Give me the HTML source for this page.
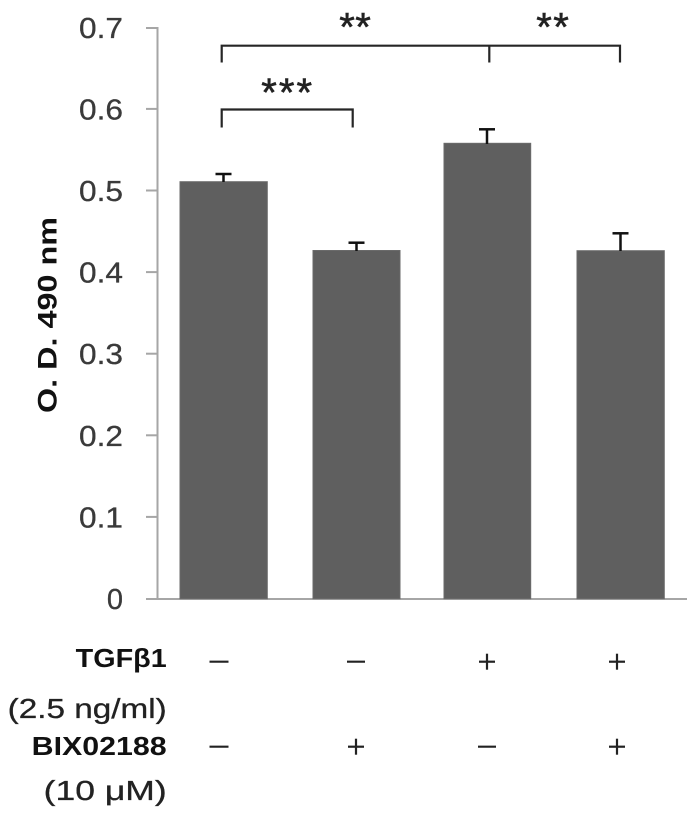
<!DOCTYPE html>
<html>
<head>
<meta charset="utf-8">
<style>
  html, body { margin: 0; padding: 0; background: #ffffff; }
  body { width: 697px; height: 815px; overflow: hidden; }
  svg { display: block; }
  .tick { font-family: "Liberation Sans", sans-serif; font-size: 29px; fill: #3a3a3a; stroke: #3a3a3a; stroke-width: 0.3px; }
  .reg { font-family: "Liberation Sans", sans-serif; font-size: 28px; fill: #222; stroke: #222; stroke-width: 0.3px; }
  .bold { font-family: "Liberation Sans", sans-serif; font-size: 26px; font-weight: bold; fill: #111; }
  .ast { font-family: "Liberation Sans", sans-serif; font-size: 40px; fill: #222; stroke: #222; stroke-width: 0.6px; }
</style>
</head>
<body>
<svg width="697" height="815" viewBox="0 0 697 815" xmlns="http://www.w3.org/2000/svg">
  <!-- Y axis -->
  <line x1="157.5" y1="27" x2="157.5" y2="599.5" stroke="#a6a6a6" stroke-width="2"/>
  <!-- X axis -->
  <line x1="146" y1="599" x2="687" y2="599" stroke="#a6a6a6" stroke-width="2"/>
  <!-- ticks -->
  <g stroke="#a6a6a6" stroke-width="2">
    <line x1="146" y1="516.9" x2="157.5" y2="516.9"/>
    <line x1="146" y1="435.3" x2="157.5" y2="435.3"/>
    <line x1="146" y1="353.7" x2="157.5" y2="353.7"/>
    <line x1="146" y1="272.1" x2="157.5" y2="272.1"/>
    <line x1="146" y1="190.5" x2="157.5" y2="190.5"/>
    <line x1="146" y1="108.9" x2="157.5" y2="108.9"/>
    <line x1="146" y1="28" x2="157.5" y2="28"/>
  </g>
  <!-- tick labels -->
  <g class="tick" text-anchor="end">
    <text x="123" y="609">0</text>
    <text x="123" y="527.4" textLength="44" lengthAdjust="spacingAndGlyphs">0.1</text>
    <text x="123" y="445.8" textLength="44" lengthAdjust="spacingAndGlyphs">0.2</text>
    <text x="123" y="364.2" textLength="44" lengthAdjust="spacingAndGlyphs">0.3</text>
    <text x="123" y="282.6" textLength="44" lengthAdjust="spacingAndGlyphs">0.4</text>
    <text x="123" y="201" textLength="44" lengthAdjust="spacingAndGlyphs">0.5</text>
    <text x="123" y="119.4" textLength="44" lengthAdjust="spacingAndGlyphs">0.6</text>
    <text x="123" y="38" textLength="44" lengthAdjust="spacingAndGlyphs">0.7</text>
  </g>
  <!-- Y label -->
  <text class="bold" transform="translate(56.5,413) rotate(-90)" x="0" y="0" textLength="196" lengthAdjust="spacingAndGlyphs" style="font-size:27px">O. D. 490 nm</text>

  <!-- bars -->
  <g fill="#5f5f5f" stroke="#6a6a6a" stroke-width="1">
    <rect x="180" y="181.7" width="87.3" height="417"/>
    <rect x="313" y="250.5" width="87" height="348.2"/>
    <rect x="444" y="143.3" width="86.7" height="455.4"/>
    <rect x="577" y="250.7" width="87.3" height="348"/>
  </g>
  <!-- error bars -->
  <g stroke="#111" stroke-width="2.5" fill="none">
    <line x1="223.5" y1="174" x2="223.5" y2="182"/>
    <line x1="215.5" y1="174" x2="231.5" y2="174"/>
    <line x1="356.5" y1="242.7" x2="356.5" y2="251"/>
    <line x1="348.5" y1="242.7" x2="364.5" y2="242.7"/>
    <line x1="487" y1="129.3" x2="487" y2="144"/>
    <line x1="479" y1="129.3" x2="495" y2="129.3"/>
    <line x1="620.5" y1="233.3" x2="620.5" y2="251"/>
    <line x1="612.5" y1="233.3" x2="628.5" y2="233.3"/>
  </g>

  <!-- significance brackets -->
  <g stroke="#262626" stroke-width="2.2" fill="none">
    <polyline points="221.7,62.5 221.7,45.7 620,45.7 620,62.5"/>
    <line x1="489.3" y1="45.7" x2="489.3" y2="62.5"/>
    <polyline points="221.7,127.5 221.7,109.5 352.7,109.5 352.7,127.5"/>
  </g>
  <g class="ast" text-anchor="middle">
    <text x="347" y="40.5">*</text>
    <text x="363" y="40.5">*</text>
    <text x="544" y="40.5">*</text>
    <text x="561" y="40.5">*</text>
    <text x="269" y="106">*</text>
    <text x="286.7" y="106">*</text>
    <text x="304.3" y="106">*</text>
  </g>

  <!-- bottom labels -->
  <text class="bold" x="166.7" y="667" text-anchor="end" textLength="91" lengthAdjust="spacingAndGlyphs">TGFβ1</text>
  <text class="reg" x="166.7" y="718" text-anchor="end" textLength="159" lengthAdjust="spacingAndGlyphs">(2.5 ng/ml)</text>
  <text class="bold" x="166.7" y="755" text-anchor="end" textLength="135" lengthAdjust="spacingAndGlyphs">BIX02188</text>
  <text class="reg" x="166.7" y="800" text-anchor="end" textLength="123" lengthAdjust="spacingAndGlyphs">(10 μM)</text>

  <!-- +/- signs -->
  <g stroke="#222" stroke-width="2.2" fill="none">
    <!-- row 1: - - + + -->
    <line x1="209.5" y1="661.7" x2="228.5" y2="661.7"/>
    <line x1="347" y1="661.7" x2="365" y2="661.7"/>
    <line x1="479" y1="661.7" x2="495" y2="661.7"/>
    <line x1="487" y1="653.7" x2="487" y2="669.7"/>
    <line x1="609" y1="661.7" x2="625" y2="661.7"/>
    <line x1="617" y1="653.7" x2="617" y2="669.7"/>
    <!-- row 2: - + - + -->
    <line x1="209.5" y1="746.7" x2="228.5" y2="746.7"/>
    <line x1="348" y1="746.7" x2="364" y2="746.7"/>
    <line x1="356" y1="738.7" x2="356" y2="754.7"/>
    <line x1="478" y1="746.7" x2="496" y2="746.7"/>
    <line x1="609" y1="746.7" x2="625" y2="746.7"/>
    <line x1="617" y1="738.7" x2="617" y2="754.7"/>
  </g>
</svg>
</body>
</html>
